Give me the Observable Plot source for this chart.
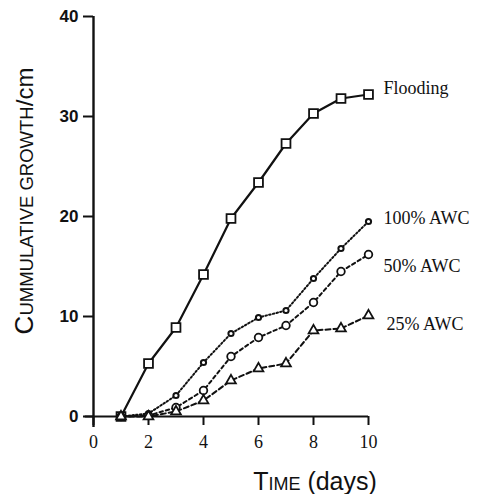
<!DOCTYPE html>
<html>
<head>
<meta charset="utf-8">
<script src="https://cdn.jsdelivr.net/npm/d3@7"></script>
<script src="https://cdn.jsdelivr.net/npm/@observablehq/plot@0.6"></script>
<style>
  html, body { margin: 0; padding: 0; background: #fff; }
</style>
</head>
<body>
<div id="chart"></div>
<script>
const days = [1, 2, 3, 4, 5, 6, 7, 8, 9, 10];
const flooding = [0, 5.3, 8.9, 14.2, 19.8, 23.4, 27.3, 30.3, 31.8, 32.2];
const awc100 = [0, 0.3, 2.1, 5.4, 8.3, 9.9, 10.6, 13.8, 16.8, 19.5];
const awc50 = [0, 0.1, 0.9, 2.6, 6.0, 7.9, 9.1, 11.4, 14.5, 16.2];
const awc25 = [0, 0, 0.5, 1.6, 3.6, 4.8, 5.3, 8.6, 8.8, 10.1];
const seriesNames = ["Flooding", "100% AWC", "50% AWC", "25% AWC"];
const yTicks = [0, 10, 20, 30, 40];
const xTicks = [0, 2, 4, 6, 8, 10];

const toRows = (vals) => days.map((d, i) => ({day: d, value: vals[i]}));
const fl = toRows(flooding), a100 = toRows(awc100), a50 = toRows(awc50), a25 = toRows(awc25);
const lastOf = (rows, name) => [{day: rows[rows.length - 1].day, value: rows[rows.length - 1].value, name}];

const ink = "#111";
const serif = "Liberation Serif, Times New Roman, serif";
const sans = "Liberation Sans, Arial, sans-serif";

const chart = Plot.plot({
  width: 479,
  height: 494,
  marginLeft: 93,
  marginRight: 111,
  marginTop: 16,
  marginBottom: 78,
  x: {domain: [0, 10]},
  y: {domain: [0, 40]},
  style: {background: "white", color: ink},
  marks: [
    Plot.ruleX([0], {y1: -1.1, y2: 40, stroke: ink, strokeWidth: 2.4}),
    Plot.ruleY([0], {x1: -0.3, x2: 10, stroke: ink, strokeWidth: 2.2}),
    Plot.axisY({ticks: yTicks, tickSize: 10, tickPadding: 5, fontSize: 17, fontFamily: sans, fontWeight: "bold", label: null, stroke: ink, strokeWidth: 2}),
    Plot.axisX({ticks: xTicks, tickSize: 9, tickPadding: 10, fontSize: 18, fontFamily: serif, label: null, stroke: ink, strokeWidth: 2}),
    Plot.line(fl, {x: "day", y: "value", stroke: ink, strokeWidth: 2.2}),
    Plot.line(a100, {x: "day", y: "value", stroke: ink, strokeWidth: 2, strokeDasharray: "1.6,2.2"}),
    Plot.line(a50, {x: "day", y: "value", stroke: ink, strokeWidth: 2, strokeDasharray: "3.5,3"}),
    Plot.line(a25, {x: "day", y: "value", stroke: ink, strokeWidth: 2, strokeDasharray: "5,3"}),
    Plot.dot(fl, {x: "day", y: "value", symbol: "square", r: 5, stroke: ink, strokeWidth: 1.8, fill: "white"}),
    Plot.dot(a100, {x: "day", y: "value", symbol: "circle", r: 2.6, stroke: ink, strokeWidth: 2, fill: "white"}),
    Plot.dot(a50, {x: "day", y: "value", symbol: "circle", r: 3.8, stroke: ink, strokeWidth: 1.8, fill: "white"}),
    Plot.dot(a25, {x: "day", y: "value", symbol: "triangle", r: 3.6, stroke: ink, strokeWidth: 1.8, fill: "white"}),
    Plot.text(lastOf(fl, seriesNames[0]), {x: "day", y: "value", text: "name", textAnchor: "start", dx: 15, dy: -6, fontSize: 18, fontFamily: serif, fill: ink}),
    Plot.text(lastOf(a100, seriesNames[1]), {x: "day", y: "value", text: "name", textAnchor: "start", dx: 15, dy: -3, fontSize: 18, fontFamily: serif, fill: ink}),
    Plot.text(lastOf(a50, seriesNames[2]), {x: "day", y: "value", text: "name", textAnchor: "start", dx: 15, dy: 12, fontSize: 18, fontFamily: serif, fill: ink}),
    Plot.text(lastOf(a25, seriesNames[3]), {x: "day", y: "value", text: "name", textAnchor: "start", dx: 18, dy: 9, fontSize: 18, fontFamily: serif, fill: ink})
  ]
});

const svg = d3.select(chart);
// Y axis title with small caps
const yt = svg.append("text")
  .attr("transform", "translate(33,201) rotate(-90)")
  .attr("text-anchor", "middle")
  .attr("font-family", sans)
  .attr("fill", ink);
yt.append("tspan").attr("font-size", 26).text("C");
yt.append("tspan").attr("font-size", 18.5).text("UMMULATIVE GROWTH");
yt.append("tspan").attr("font-size", 24).text("/cm");

// X axis title with small caps
const xt = svg.append("text")
  .attr("x", 315)
  .attr("y", 490)
  .attr("text-anchor", "middle")
  .attr("font-family", sans)
  .attr("fill", ink);
xt.append("tspan").attr("font-size", 25).text("T");
xt.append("tspan").attr("font-size", 18).text("IME");
xt.append("tspan").attr("font-size", 25).text(" (days)");

document.getElementById("chart").appendChild(chart);
</script>
</body>
</html>
